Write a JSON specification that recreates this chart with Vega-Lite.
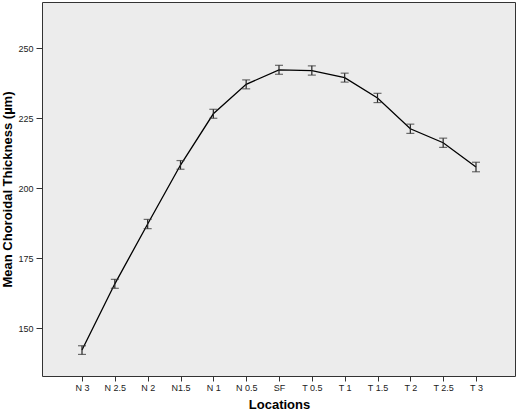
{
  "$schema": "https://vega.github.io/schema/vega-lite/v6.json",
  "width": 473,
  "height": 374,
  "autosize": {"type": "none"},
  "padding": {"left": 42, "top": 2, "right": 2, "bottom": 35},
  "background": "white",
  "config": {
    "view": {"fill": "#ececec", "stroke": "#333333", "strokeWidth": 1},
    "font": "Liberation Sans"
  },
  "data": {
    "values": [
      {"loc": "N 3", "mean": 142.3, "lo": 140.7, "hi": 143.8},
      {"loc": "N 2.5", "mean": 165.9, "lo": 164.3, "hi": 167.5},
      {"loc": "N 2", "mean": 187.25, "lo": 185.6, "hi": 188.9},
      {"loc": "N1.5", "mean": 208.3, "lo": 206.8, "hi": 209.9},
      {"loc": "N 1", "mean": 226.6, "lo": 225.0, "hi": 228.2},
      {"loc": "N 0.5", "mean": 237.1, "lo": 235.5, "hi": 238.7},
      {"loc": "SF", "mean": 242.3, "lo": 240.7, "hi": 243.9},
      {"loc": "T 0.5", "mean": 242.0, "lo": 240.4, "hi": 243.7},
      {"loc": "T 1", "mean": 239.5, "lo": 237.9, "hi": 241.1},
      {"loc": "T 1.5", "mean": 232.25, "lo": 230.6, "hi": 233.9},
      {"loc": "T 2", "mean": 221.25, "lo": 219.6, "hi": 222.9},
      {"loc": "T 2.5", "mean": 216.25, "lo": 214.6, "hi": 217.9},
      {"loc": "T 3", "mean": 207.6, "lo": 205.9, "hi": 209.3}
    ]
  },
  "encoding": {
    "x": {
      "field": "loc",
      "type": "nominal",
      "sort": null,
      "scale": {"type": "point", "padding": 0, "range": [40, 434]},
      "axis": {
        "title": "Locations",
        "titleFont": "Liberation Sans",
        "titleFontSize": 13,
        "titleFontWeight": "bold",
        "titleColor": "#000000",
        "titlePadding": 6,
        "labelAngle": 0,
        "labelFontSize": 9,
        "labelColor": "#222222",
        "labelPadding": 2,
        "tickSize": 5,
        "tickColor": "#333333",
        "domain": false,
        "grid": false
      }
    }
  },
  "layer": [
    {
      "mark": {"type": "line", "color": "#000000", "strokeWidth": 1.3},
      "encoding": {
        "y": {
          "field": "mean",
          "type": "quantitative",
          "scale": {"domain": [133, 266.5], "nice": false, "zero": false},
          "axis": {
            "title": "Mean Choroidal Thickness (µm)",
            "titleFont": "Liberation Sans",
            "titleFontSize": 13,
            "titleFontWeight": "bold",
            "titleColor": "#000000",
            "titlePadding": 3,
            "values": [150, 175, 200, 225, 250],
            "labelFontSize": 9,
            "labelColor": "#222222",
            "labelPadding": 3,
            "tickSize": 6,
            "tickColor": "#333333",
            "domain": false,
            "grid": false
          }
        }
      }
    },
    {
      "mark": {"type": "rule", "color": "#222222", "strokeWidth": 1.2},
      "encoding": {
        "y": {"field": "lo", "type": "quantitative"},
        "y2": {"field": "hi"}
      }
    },
    {
      "mark": {"type": "tick", "color": "#333333", "size": 8, "thickness": 1.2},
      "encoding": {
        "y": {"field": "lo", "type": "quantitative"}
      }
    },
    {
      "mark": {"type": "tick", "color": "#333333", "size": 8, "thickness": 1.2},
      "encoding": {
        "y": {"field": "hi", "type": "quantitative"}
      }
    }
  ]
}
